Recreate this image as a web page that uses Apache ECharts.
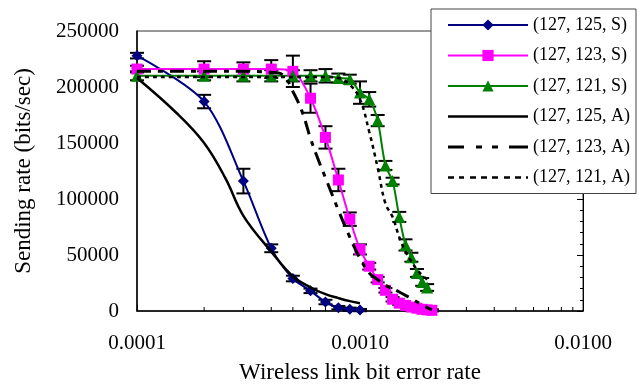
<!DOCTYPE html>
<html>
<head>
<meta charset="utf-8">
<script src="https://cdn.jsdelivr.net/npm/echarts@6/dist/echarts.min.js"></script>
<style>
html, body { margin: 0; padding: 0; background: #fff; }
#chart { width: 637px; height: 389px; }
</style>
</head>
<body>
<div id="chart"></div>
<script>
// simulation results (S) with error bars
const berS125 = [0.0001, 0.0002, 0.0003, 0.0004, 0.0005, 0.0006, 0.0007, 0.0008, 0.0009, 0.001]
const rateS125 = [228000, 187000, 116000, 56000, 29000, 18000, 8000, 3000, 1500, 800]
const errS125 = [2500, 6000, 11000, 3500, 2500, 2000, 2000, 1500, 1500, 1000]

const berS123 = [0.0001, 0.0002, 0.0003, 0.0004, 0.0005, 0.0006, 0.0007, 0.0008, 0.0009, 0.001,
  0.0011, 0.0012, 0.0013, 0.0014, 0.0015, 0.0016, 0.0017, 0.0018, 0.0019, 0.002, 0.0021]
const rateS123 = [216000, 216000, 216000, 216000, 214000, 190000, 155000, 117000, 82000, 55000,
  40000, 28000, 18500, 10500, 7000, 5000, 3500, 2500, 1500, 1000, 600]
const errS123 = [3000, 7000, 6000, 8000, 14000, 13000, 10000, 10000, 6000, 4500,
  3000, 2500, 2000, 2000, 1500, 1500, 1000, 1000, 1000, 1000, 1000]

const berS121 = [0.0001, 0.0002, 0.0003, 0.0004, 0.0005, 0.0006, 0.0007, 0.0008, 0.0009, 0.001,
  0.0011, 0.0012, 0.0013, 0.0014, 0.0015, 0.0016, 0.0017, 0.0018, 0.0019, 0.002]
const rateS121 = [210000, 210000, 210000, 210000, 210000, 210000, 210000, 208000, 207000, 195000,
  189000, 170000, 130000, 116000, 84000, 59000, 48000, 34000, 26000, 21000]
const errS121 = [4000, 4000, 5000, 5000, 5000, 5000, 6000, 4000, 4000, 10000,
  6500, 5000, 4000, 3000, 4500, 5000, 4000, 3500, 3500, 3000]

// analytical results (A)
const berA125 = [0.0001, 0.00015, 0.0002, 0.00025, 0.0003, 0.0004, 0.0005, 0.0006, 0.0007, 0.0008, 0.0009, 0.001]
const rateA125 = [208000, 177000, 150000, 118000, 85000, 53000, 31000, 21000, 15000, 11500, 8800, 7000]

const berA123 = [0.0001, 0.0002, 0.0003, 0.0004, 0.00045, 0.0005, 0.00055, 0.0006, 0.00065, 0.0007,
  0.0008, 0.0009, 0.001, 0.0011, 0.0012, 0.0013, 0.0015, 0.0017, 0.0019, 0.0021]
const rateA123 = [214000, 214000, 214000, 213000, 211000, 196000, 178000, 154000, 135000, 119000,
  90000, 66000, 47000, 34000, 28000, 23000, 17000, 11000, 5500, 1000]

const berA121 = [0.0001, 0.0003, 0.0005, 0.0007, 0.0008, 0.0009, 0.001, 0.0011, 0.0012, 0.0013,
  0.0014, 0.0015, 0.0016, 0.0017, 0.0018, 0.0019, 0.002]
const rateA121 = [209000, 209000, 209000, 209000, 208000, 202000, 189000, 160000, 128000, 96000,
  84000, 66000, 53000, 44000, 37000, 32000, 28000]

const seriesNames = ['(127, 125, S)', '(127, 123, S)', '(127, 121, S)', '(127, 125, A)', '(127, 123, A)', '(127, 121, A)']
const xTickLabels = ['0.0001', '0.0010', '0.0100']
const xMinorTicks = [0.0002, 0.0003, 0.0004, 0.0005, 0.0006, 0.0007, 0.0008, 0.0009,
  0.002, 0.003, 0.004, 0.005, 0.006, 0.007, 0.008, 0.009]

const FONT = 'Liberation Serif'

function pairs (xs, ys) {
  return xs.map((x, i) => [x, ys[i]])
}

// legend icon for the black analytical lines: filled bar pieces in an 80x14 box
function barIcon (pieces, thick) {
  const y0 = 7 - thick / 2
  const y1 = 7 + thick / 2
  let p = 'path://M0,0M80,14'
  pieces.forEach(s => {
    p += 'M' + s[0] + ',' + y0 + 'H' + s[1] + 'V' + y1 + 'H' + s[0] + 'Z'
  })
  return p
}

// I-beam error bars drawn through the axis scales
function errorSeries (xs, ys, errs) {
  return {
    type: 'custom',
    z: 1,
    silent: true,
    data: xs.map((x, i) => [x, ys[i] - errs[i], ys[i] + errs[i]]),
    encode: { x: 0, y: [1, 2] },
    renderItem: function (params, api) {
      const lo = api.coord([api.value(0), api.value(1)])
      const hi = api.coord([api.value(0), api.value(2)])
      const w = 7
      const style = { stroke: '#000', lineWidth: 2 }
      return {
        type: 'group',
        children: [
          { type: 'line', shape: { x1: lo[0], y1: lo[1], x2: hi[0], y2: hi[1] }, style: style },
          { type: 'line', shape: { x1: lo[0] - w, y1: lo[1], x2: lo[0] + w, y2: lo[1] }, style: style },
          { type: 'line', shape: { x1: hi[0] - w, y1: hi[1], x2: hi[0] + w, y2: hi[1] }, style: style }
        ]
      }
    }
  }
}

function analyticSeries (name, xs, ys, width, dash) {
  return {
    name: name,
    type: 'line',
    data: pairs(xs, ys),
    smooth: 0.4,
    showSymbol: false,
    z: 4,
    lineStyle: { color: '#000', width: width, type: dash },
    itemStyle: { color: '#000', borderWidth: 0 }
  }
}

const blackIcon = { color: '#000', borderWidth: 0 }
const legendData = [
  { name: seriesNames[0] },
  { name: seriesNames[1] },
  { name: seriesNames[2] },
  { name: seriesNames[3], icon: barIcon([[0, 80]], 2.5), itemStyle: blackIcon },
  { name: seriesNames[4], icon: barIcon([[0, 16], [28, 34], [44, 50], [61, 80]], 3), itemStyle: blackIcon },
  { name: seriesNames[5], icon: barIcon([[0, 6], [11, 16], [22, 28], [33, 39], [44, 50], [56, 62], [67, 73], [78, 80]], 2.5), itemStyle: blackIcon }
]

const chart = echarts.init(document.getElementById('chart'))
chart.setOption({
  animation: false,
  grid: { left: 137, top: 31, right: 54, bottom: 74, show: true, borderColor: '#333', borderWidth: 1 },
  legend: {
    data: legendData,
    orient: 'vertical',
    left: 431,
    top: 9,
    padding: [7, 6, 7, 16],
    itemWidth: 80,
    itemHeight: 14,
    itemGap: 12.5,
    backgroundColor: '#fff',
    borderColor: '#444',
    borderWidth: 1,
    borderRadius: 0,
    textStyle: { fontFamily: FONT, fontSize: 18, color: '#000', lineHeight: 14 }
  },
  xAxis: {
    type: 'log',
    logBase: 10,
    min: 0.0001,
    max: 0.01,
    name: 'Wireless link bit error rate',
    nameLocation: 'middle',
    nameGap: 50,
    nameTextStyle: { fontFamily: FONT, fontSize: 23, color: '#000' },
    axisLine: { lineStyle: { color: '#000', width: 1.5 } },
    axisTick: { inside: true, length: 6, lineStyle: { color: '#000' } },
    splitLine: { show: false },
    axisLabel: {
      fontFamily: FONT,
      fontSize: 21,
      color: '#000',
      margin: 22,
      formatter: function (v) {
        return xTickLabels[Math.round(Math.log10(v)) + 4]
      }
    }
  },
  yAxis: [
    {
      type: 'value',
      min: 0,
      max: 250000,
      interval: 50000,
      name: 'Sending rate (bits/sec)',
      nameLocation: 'middle',
      nameGap: 102,
      nameTextStyle: { fontFamily: FONT, fontSize: 23, color: '#000' },
      axisLine: { show: true, lineStyle: { color: '#000', width: 1.5 } },
      axisTick: { show: false },
      splitLine: { show: false },
      axisLabel: {
        fontFamily: FONT,
        fontSize: 21,
        color: '#000',
        margin: 18,
        formatter: function (v) { return String(v) }
      }
    },
    {
      type: 'value',
      position: 'right',
      min: 0,
      max: 250000,
      interval: 50000,
      axisLine: { show: true, lineStyle: { color: '#000', width: 1 } },
      axisTick: { inside: true, length: 6, lineStyle: { color: '#000' } },
      minorTick: { show: true, splitNumber: 5, length: 3, lineStyle: { color: '#000' } },
      splitLine: { show: false },
      axisLabel: { show: false }
    }
  ],
  series: [
    errorSeries(berS125, rateS125, errS125),
    errorSeries(berS123, rateS123, errS123),
    errorSeries(berS121, rateS121, errS121),
    {
      type: 'custom',
      silent: true,
      data: xMinorTicks.map(x => [x, 0]),
      renderItem: function (params, api) {
        const p = api.coord([api.value(0), 0])
        return { type: 'line', shape: { x1: p[0], y1: p[1], x2: p[0], y2: p[1] - 4 }, style: { stroke: '#000', lineWidth: 1 } }
      }
    },
    {
      name: seriesNames[0],
      type: 'line',
      data: pairs(berS125, rateS125),
      smooth: 0.3,
      symbol: 'diamond',
      symbolSize: 11,
      z: 3,
      lineStyle: { color: '#000080', width: 2 },
      itemStyle: { color: '#000080' }
    },
    {
      name: seriesNames[1],
      type: 'line',
      data: pairs(berS123, rateS123),
      smooth: 0.3,
      symbol: 'rect',
      symbolSize: 11,
      z: 3,
      lineStyle: { color: '#ff00ff', width: 2 },
      itemStyle: { color: '#ff00ff' }
    },
    {
      name: seriesNames[2],
      type: 'line',
      data: pairs(berS121, rateS121),
      smooth: 0.3,
      symbol: 'triangle',
      symbolSize: 12,
      z: 3,
      lineStyle: { color: '#008000', width: 2 },
      itemStyle: { color: '#008000' }
    },
    analyticSeries(seriesNames[3], berA125, rateA125, 2.5, 'solid'),
    analyticSeries(seriesNames[4], berA123, rateA123, 3, [14, 7, 5, 7]),
    analyticSeries(seriesNames[5], berA121, rateA121, 2.5, [4, 4])
  ]
})
</script>
</body>
</html>
